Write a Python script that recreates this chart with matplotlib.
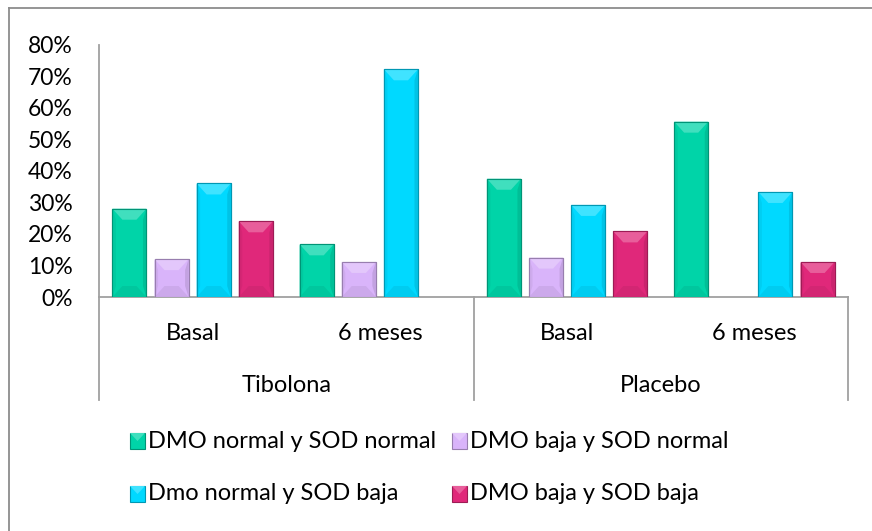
import numpy as np
import matplotlib
matplotlib.use("Agg")
import matplotlib.pyplot as plt
from matplotlib.patches import Polygon, Rectangle
from matplotlib.lines import Line2D
from matplotlib import colors as mcolors

plt.rcParams['font.family'] = ['Lato', 'DejaVu Sans']

# data
groups = ['Tibolona', 'Placebo']
periods = ['Basal', '6 meses', 'Basal', '6 meses']
series = ['DMO normal y SOD normal', 'DMO baja y SOD normal',
          'Dmo normal y SOD baja', 'DMO baja y SOD baja']
normal_normal = [0.28, 0.167, 0.375, 0.556]
baja_normal = [0.12, 0.111, 0.125, 0.0]
normal_baja = [0.36, 0.722, 0.292, 0.333]
baja_baja = [0.24, 0.0, 0.208, 0.111]
yticks = [0, 0.1, 0.2, 0.3, 0.4, 0.5, 0.6, 0.7, 0.8]

values = [normal_normal, baja_normal, normal_baja, baja_baja]
cols = ['#00D4A8', '#D9B4FA', '#00D9FF', '#E0287A']

W, H = 872, 531
fig = plt.figure(figsize=(W / 100, H / 100), dpi=100)
left, right, bottom, top = 99 / W, 848 / W, (H - 297) / H, (H - 44.7) / H
ax = fig.add_axes([left, bottom, right - left, top - bottom])

x = np.arange(len(periods))
step = 0.225
bw = 0.182
ax.set_xlim(-0.5, len(periods) - 0.5)
ax.set_ylim(0, 0.8)

ax_w_px = (right - left) * W
ax_h_px = (top - bottom) * H
bx_unit = (len(periods)) / ax_w_px
by_unit = 0.8 / ax_h_px


def shade(c, f):
    r, g, b = mcolors.to_rgb(c)
    if f > 0:
        return (r + (1 - r) * f, g + (1 - g) * f, b + (1 - b) * f)
    return (r * (1 + f), g * (1 + f), b * (1 + f))


for i, (vals, c) in enumerate(zip(values, cols)):
    bars = ax.bar(x + (i - 1.5) * step, vals, bw, color=c,
                  edgecolor=shade(c, -0.35), linewidth=0.8, zorder=3)
    for r in bars:
        h = r.get_height()
        if h <= 0:
            r.set_visible(False)
            continue
        x0, w = r.get_x(), r.get_width()
        bx = 10 * bx_unit
        by = min(11 * by_unit, h / 2)
        bxx = min(bx, w / 2)
        ax.add_patch(Polygon([(x0, h), (x0 + w, h), (x0 + w - bxx, h - by), (x0 + bxx, h - by)],
                             closed=True, color=shade(c, 0.25), lw=0, zorder=4))
        ax.add_patch(Polygon([(x0, 0), (x0 + w, 0), (x0 + w - bxx, by), (x0 + bxx, by)],
                             closed=True, color=shade(c, -0.06), lw=0, zorder=4))
        ax.add_patch(Polygon([(x0, 0), (x0 + bxx * 0.35, by), (x0 + bxx * 0.35, h - by), (x0, h)],
                             closed=True, color=shade(c, -0.05), lw=0, zorder=4))
        ax.add_patch(Polygon([(x0 + w, 0), (x0 + w - bxx * 0.35, by), (x0 + w - bxx * 0.35, h - by), (x0 + w, h)],
                             closed=True, color=shade(c, -0.1), lw=0, zorder=4))
        ax.add_patch(Rectangle((x0, 0), w, h, fill=False, ec=shade(c, -0.3), lw=0.8, zorder=5))

for s in ['top', 'right']:
    ax.spines[s].set_visible(False)
for s in ['left', 'bottom']:
    ax.spines[s].set_color('#A0A0A0')
    ax.spines[s].set_linewidth(1.3)

ax.set_yticks(yticks)
ax.set_yticklabels([f'{int(round(v * 100))}%' for v in yticks], fontsize=16.5)
ax.tick_params(axis='y', length=0, pad=19)
ax.set_xticks([])

trans = ax.get_xaxis_transform()
for xi, p in zip(x, periods):
    ax.text(xi, -36 / ax_h_px, p, transform=trans, ha='center', va='center', fontsize=17)
for gi, g in enumerate(groups):
    ax.text(2 * gi + 0.5, -89 / ax_h_px, g, transform=trans, ha='center', va='center', fontsize=17)
for xs in [-0.5, 1.5, 3.5]:
    ax.add_line(Line2D([xs, xs], [0, -103 / ax_h_px], transform=trans, color='#A0A0A0',
                       lw=1.3, clip_on=False))

# legend
leg_pos = [(130, 441), (452, 441), (130, 494), (452, 494)]
for (px, py), lab, c in zip(leg_pos, series, cols):
    fig.patches.append(Rectangle((px / W, (H - py - 8) / H), 15 / W, 16 / H,
                                 transform=fig.transFigure, fc=c, ec=shade(c, -0.3), lw=0.8))
    fig.patches.append(Polygon([(px / W, (H - py + 8) / H), ((px + 15) / W, (H - py + 8) / H),
                                ((px + 7.5) / W, (H - py) / H)], closed=True,
                               transform=fig.transFigure, fc=shade(c, 0.25), lw=0))
    fig.text((px + 18) / W, (H - py) / H, lab, ha='left', va='center', fontsize=17)

# chart border (top and left visible)
fig.add_artist(Line2D([9 / W, 1.0], [1 - 8 / H, 1 - 8 / H], transform=fig.transFigure,
                      color='#8C8C8C', lw=1.3))
fig.add_artist(Line2D([9 / W, 9 / W], [0, 1 - 8 / H], transform=fig.transFigure,
                      color='#8C8C8C', lw=1.3))

fig.savefig('out.png', dpi=100)
